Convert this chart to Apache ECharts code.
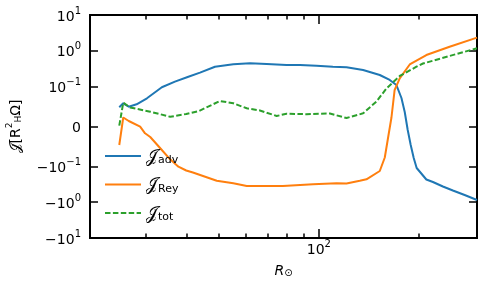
<!DOCTYPE html>
<html><head><meta charset="utf-8">
<script src="https://cdn.jsdelivr.net/npm/echarts@6/dist/echarts.min.js"></script>
<style>html,body{margin:0;padding:0;background:#fff}#c{width:486px;height:288px}</style>
</head><body><div id="c"></div>
<script>
// ---- data (R in solar radii, J in units of R_H^2 Omega) ----
const R_adv = [25.0,25.7,26.7,28.2,30.3,33.6,36.8,40.4,43.8,48.6,55.2,62.0,69.6,79.9,87.7,98.4,110.2,121.2,136,152.7,163.6,171.4,177.5,181.6,185.4,189.3,193.3,197.3,211.0,220.9,236.7,253.7,275.3,300];
const J_adv = [0.0482,0.0582,0.0497,0.0557,0.0708,0.0985,0.138,0.190,0.246,0.361,0.421,0.449,0.429,0.403,0.403,0.385,0.361,0.347,0.292,0.212,0.154,0.111,0.0716,0.0364,-0.0088,-0.0465,-0.0791,-0.1114,-0.233,-0.274,-0.366,-0.473,-0.631,-0.870];
const R_rey = [25.0,25.7,26.7,28.9,29.9,31.0,33.6,35.6,37.7,39.8,41.7,49.2,55.2,60.6,77.9,96.1,113.1,121.2,132.9,139.2,152.7,158.1,161.7,165.6,169.3,175.4,188.0,211.0,248.0,300];
const J_rey = [-0.0465,0.0226,0.0138,-0.0005,-0.0171,-0.0264,-0.059,-0.0824,-0.1025,-0.1308,-0.1487,-0.252,-0.298,-0.354,-0.354,-0.3175,-0.298,-0.300,-0.252,-0.230,-0.135,-0.0778,-0.0289,0.0226,0.0917,0.171,0.416,0.765,1.305,2.33];
const R_tot = [25.0,25.7,26.96,31.0,35.6,39.8,43.5,50.3,55.2,60.6,66.4,74.6,79.9,91.8,108,121.2,136,149.2,159.9,175.4,197,206.1,248,300];
const J_tot = [0.002,0.0598,0.0477,0.0372,0.0244,0.0314,0.0389,0.0640,0.0583,0.0457,0.0402,0.0264,0.0321,0.0309,0.0326,0.0213,0.0331,0.0628,0.0954,0.199,0.361,0.443,0.718,1.18];

const yTickValues = [-10,-1,-0.1,0,0.1,1,10];
const yTickLabels = ['{m|−10}{p|1}','{m|−10}{p|0}','{m|−10}{p|−1}','{m|0}','{m|10}{p|−1}','{m|10}{p|0}','{m|10}{p|1}'];
const xMajorTicks = [100];
const xMajorLabels = ['{m|10}{p|2}'];
const xMinorTicks = [30,40,50,60,70,80,90,200];
const xRange = [20.4, 300];
const yRange = [-10, 10];

// ---- symlog transform (linthresh 0.1, linscale 1, base 10) ----
const LT = 0.1, LS = 1/(1-1/10);
function symlog(v){const a=Math.abs(v),s=v<0?-1:1;return a<=LT? s*(a/LT)*LS : s*(LS+Math.log10(a/LT));}
const lg = Math.log10;
function pts(R,J){return R.map((r,i)=>[lg(r),symlog(J[i])]);}

const F = 'DejaVu Sans';
const rich = {
  m:{fontFamily:F,fontSize:14,color:'#000',lineHeight:18,verticalAlign:'bottom'},
  p:{fontFamily:F,fontSize:10,color:'#000',verticalAlign:'top',lineHeight:12}
};
const yT = yTickValues.map(symlog);
function yFmt(v){for(let i=0;i<yT.length;i++){if(Math.abs(yT[i]-v)<1e-6)return yTickLabels[i];}return '';}
const xMaj = xMajorTicks.map(lg), xMin = xMinorTicks.map(lg);
function xFmt(v){for(let i=0;i<xMaj.length;i++){if(Math.abs(xMaj[i]-v)<1e-6)return xMajorLabels[i];}return '';}

const spine = {show:true,onZero:false,lineStyle:{color:'#000',width:2}};
function xAx(pos,vals,len,labels){
  return {type:'value',position:pos,min:lg(xRange[0]),max:lg(xRange[1]),
    axisLine:spine,splitLine:{show:false},
    axisTick:{show:true,inside:true,length:len,customValues:vals,lineStyle:{color:'#000',width:1.5}},
    axisLabel:labels?{show:true,customValues:vals,formatter:xFmt,rich:rich,margin:1}:{show:false}};
}
function yAx(pos,labels){
  return {type:'value',position:pos,min:symlog(yRange[0]),max:symlog(yRange[1]),
    axisLine:spine,splitLine:{show:false},
    axisTick:{show:true,inside:true,length:8,customValues:yT,lineStyle:{color:'#000',width:1.5}},
    axisLabel:labels?{show:true,customValues:yT,formatter:yFmt,rich:rich,margin:9,align:'right'}:{show:false}};
}
const xA0 = xAx('bottom',xMaj,9,true);
xA0.name='{i|R}{s|⊙}';xA0.nameLocation='middle';xA0.nameGap=22;
xA0.nameTextStyle={rich:{i:{fontFamily:F,fontStyle:'italic',fontSize:14,color:'#000',lineHeight:18,verticalAlign:'bottom'},s:{fontFamily:F,fontSize:10,color:'#000',verticalAlign:'bottom',lineHeight:14}}};
const yA0 = yAx('left',true);
yA0.name='{j|𝒥̇}{m|[R}{p|2}{s|H}{m|Ω]}';yA0.nameLocation='middle';yA0.nameGap=67;yA0.nameRotate=90;
yA0.nameTextStyle={rich:{j:{fontFamily:F,fontSize:14,color:'#000',lineHeight:18,verticalAlign:'bottom'},m:{fontFamily:F,fontSize:14,color:'#000',lineHeight:18,verticalAlign:'bottom'},p:{fontFamily:F,fontSize:9,color:'#000',verticalAlign:'top',lineHeight:10},s:{fontFamily:F,fontSize:9,color:'#000',verticalAlign:'bottom',lineHeight:10}}};

const legRich = {j:{fontFamily:F,fontSize:17,color:'#000',lineHeight:20,verticalAlign:'bottom'},s:{fontFamily:F,fontSize:11,color:'#000',verticalAlign:'bottom',lineHeight:14}};
const names = {adv:'{j|𝒥̇}{s|adv}',rey:'{j|𝒥̇}{s|Rey}',tot:'{j|𝒥̇}{s|tot}'};

const chart = echarts.init(document.getElementById('c'),null,{renderer:'canvas'});
chart.setOption({
  animation:false,
  grid:{left:90,right:9,top:15,bottom:50,containLabel:false,outerBoundsMode:'none'},
  xAxis:[xA0,xAx('bottom',xMin,4.5,false),xAx('top',xMaj,9,false),xAx('top',xMin,4.5,false)],
  yAxis:[yA0,yAx('right',false)],
  legend:{orient:'vertical',left:99,top:144,itemWidth:36,itemHeight:10,itemGap:11.5,
    itemStyle:{opacity:0},
    data:[names.adv,names.rey,names.tot],textStyle:{rich:legRich},formatter:n=>n},
  series:[
    {name:names.adv,type:'line',symbol:'none',data:pts(R_adv,J_adv),lineStyle:{color:'#1f77b4',width:2},itemStyle:{color:'#1f77b4'}},
    {name:names.rey,type:'line',symbol:'none',data:pts(R_rey,J_rey),lineStyle:{color:'#ff7f0e',width:2},itemStyle:{color:'#ff7f0e'}},
    {name:names.tot,type:'line',symbol:'none',data:pts(R_tot,J_tot),lineStyle:{color:'#2ca02c',width:2,type:[5.5,2.4]},itemStyle:{color:'#2ca02c'}}
  ]
});
</script></body></html>
